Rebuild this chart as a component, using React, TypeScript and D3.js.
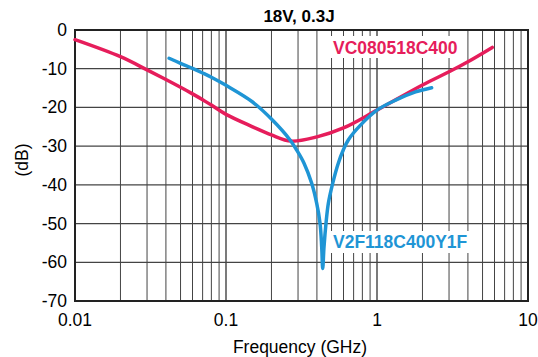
import React from "react";
import * as d3 from "d3";

const TITLE = "18V, 0.3J";
const X_TICKS = [0.01, 0.1, 1, 10];
const X_TICK_LABELS = ["0.01", "0.1", "1", "10"];
const Y_TICKS = [0, -10, -20, -30, -40, -50, -60, -70];

// VC080518C400 (red)
const redFreq = [0.01, 0.02, 0.03, 0.04, 0.05, 0.06, 0.07, 0.08, 0.1, 0.15, 0.2, 0.27, 0.4, 0.6, 1, 2, 3, 4, 5.8];
const redDb = [-2.5, -6.9, -10.3, -12.8, -14.8, -16.5, -18.0, -19.4, -21.8, -25.0, -27.1, -28.7, -27.6, -25.3, -20.7, -14.2, -10.8, -8.2, -4.5];

// V2F118C400Y1F (blue)
const blueFreq = [0.042, 0.05, 0.06, 0.07, 0.08, 0.1, 0.15, 0.2, 0.2655, 0.2938, 0.3286, 0.3694, 0.3988, 0.4195, 0.4303, 0.4369, 0.4457, 0.4596, 0.476, 0.5088, 0.5543, 0.598, 0.6455, 0.772, 1, 1.35, 1.8, 2.3];
const blueDb = [-7.3, -8.6, -9.9, -11.1, -12.2, -14.3, -18.6, -23.0, -28.4, -31.0, -34.4, -39.6, -44.8, -49.9, -56.0, -61.6, -56.0, -49.9, -44.8, -39.6, -34.4, -31.0, -28.4, -24.7, -20.7, -18.0, -16.0, -14.9];

const RED = "#e61d5b";
const BLUE = "#1f95d5";

export default function App() {
  const W = 538, H = 357;
  const x = d3.scaleLog().domain([0.01, 10]).range([75, 528]);
  const y = d3.scaleLinear().domain([-70, 0]).range([301, 30]);
  const minor: number[] = [];
  for (const dec of [0.01, 0.1, 1]) for (let k = 2; k <= 9; k++) minor.push(dec * k);
  const line = d3.line<[number, number]>().x(d => x(d[0])).y(d => y(d[1])).curve(d3.curveCatmullRom.alpha(0.5));
  const redPts = redFreq.map((f, i) => [f, redDb[i]] as [number, number]);
  const bluePts = blueFreq.map((f, i) => [f, blueDb[i]] as [number, number]);
  const font = "'Liberation Sans', Arial, Helvetica, sans-serif";
  const fs = 17.5;
  return (
    <svg width={W} height={H} style={{ position: "absolute", left: 0, top: 0 }} fontFamily={font}>
      <rect width={W} height={H} fill="#fff" />
      {minor.map((v, i) => (
        <line key={"m" + i} x1={x(v)} x2={x(v)} y1={y(0)} y2={y(-70)} stroke="#444" strokeWidth={1} />
      ))}
      {[0.1, 1].map((v, i) => (
        <line key={"M" + i} x1={x(v)} x2={x(v)} y1={y(0)} y2={y(-70)} stroke="#222" strokeWidth={1.2} />
      ))}
      {Y_TICKS.map((v, i) => (
        <line key={"h" + i} x1={x(0.01)} x2={x(10)} y1={y(v)} y2={y(v)} stroke="#444" strokeWidth={1.2} />
      ))}
      <rect x={x(0.01)} y={y(0)} width={x(10) - x(0.01)} height={y(-70) - y(0)} fill="none" stroke="#222" strokeWidth={2} />
      <path d={line(redPts) || ""} fill="none" stroke={RED} strokeWidth={3.5} strokeLinecap="round" />
      <path d={line(bluePts) || ""} fill="none" stroke={BLUE} strokeWidth={3.5} strokeLinecap="round" />
      <rect x={330} y={36} width={134} height={22} fill="#fff" />
      <text x={333} y={54} fill={RED} fontSize={17.5} fontWeight="bold">VC080518C400</text>
      <rect x={329} y={231} width={146} height={22} fill="#fff" />
      <text x={333} y={248} fill={BLUE} fontSize={17.5} fontWeight="bold">V2F118C400Y1F</text>
      <text x={299} y={22} textAnchor="middle" fontSize={17} fontWeight="bold">{TITLE}</text>
      {Y_TICKS.map((v, i) => (
        <text key={"yt" + i} x={67} y={y(v) + 6} textAnchor="end" fontSize={fs}>{v}</text>
      ))}
      {X_TICKS.map((v, i) => (
        <text key={"xt" + i} x={x(v)} y={326} textAnchor="middle" fontSize={fs}>{X_TICK_LABELS[i]}</text>
      ))}
      <text x={300} y={353} textAnchor="middle" fontSize={fs}>Frequency (GHz)</text>
      <text transform={`translate(28,160) rotate(-90)`} textAnchor="middle" fontSize={fs}>(dB)</text>
    </svg>
  );
}
